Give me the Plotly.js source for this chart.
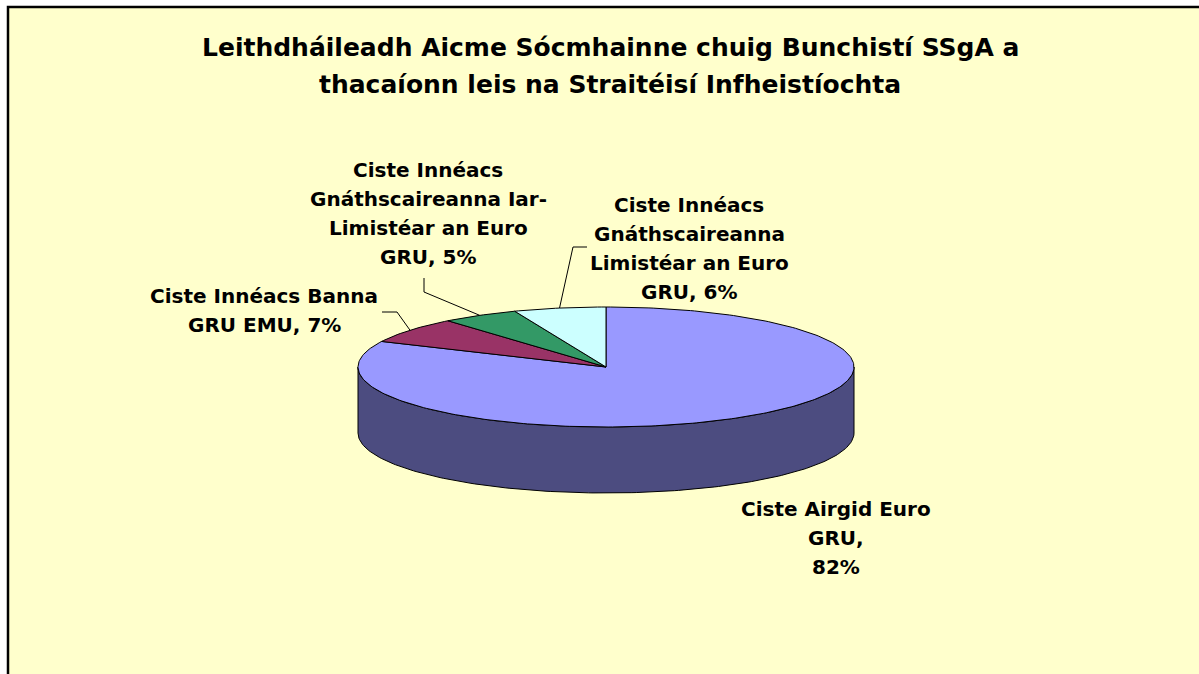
<!DOCTYPE html>
<html><head><meta charset="utf-8">
<script src="https://cdn.plot.ly/plotly-3.0.1.min.js"></script>
<style>html,body{margin:0;padding:0;background:#fff}#chart{width:1199px;height:674px}</style>
</head><body><div id="chart"></div>
<script>
// ---- data ----
const categories = [
  "Ciste Airgid Euro GRU",
  "Ciste Innéacs Banna GRU EMU",
  "Ciste Innéacs Gnáthscaireanna Iar-Limistéar an Euro GRU",
  "Ciste Innéacs Gnáthscaireanna Limistéar an Euro GRU"
];
const values = [82, 7, 5, 6];
const nameLines = [
  ["Ciste Airgid Euro", "GRU,"],
  ["Ciste Innéacs Banna", "GRU EMU,"],
  ["Ciste Innéacs", "Gnáthscaireanna Iar-", "Limistéar an Euro", "GRU,"],
  ["Ciste Innéacs", "Gnáthscaireanna", "Limistéar an Euro", "GRU,"]
];
const topColors  = ['#9999FF', '#993366', '#339966', '#CCFFFF'];
const sideColors = ['#4C4C80', '#4D1A33', '#1A4D33', '#668080'];
const titleLines = [
  'Leithdháileadh Aicme Sócmhainne chuig Bunchistí SSgA a',
  'thacaíonn leis na Straitéisí Infheistíochta'
];

// ---- layout geometry (pixel space) ----
const cx = 606, cy = 367, rx = 248, ry = 60, depth = 66;
const labelPos = [ {x: 836, y: 509}, {x: 264, y: 296}, {x: 428, y: 170}, {x: 689, y: 205} ];
const lineGap = 29;
const titlePos = {x: 610, y: 47, gap: 37};
const leaders = [ null, [[382,312],[397,312]], [[424,278],[424,292]], [[587,247],[573,247]] ];

function pt(tDeg, yoff) {
  const t = tDeg * Math.PI / 180;
  return [cx + rx * Math.sin(t), cy - ry * Math.cos(t) + yoff];
}
function arc(t0, t1, yoff) {
  const xs = [], ys = [];
  const n = Math.max(2, Math.ceil(Math.abs(t1 - t0)));
  for (let k = 0; k <= n; k++) {
    const p = pt(t0 + (t1 - t0) * k / n, yoff);
    xs.push(p[0]); ys.push(p[1]);
  }
  return [xs, ys];
}

const total = values.reduce((a, b) => a + b, 0);
const starts = [], ends = [];
let acc = 0;
values.forEach(v => { starts.push(acc / total * 360); acc += v; ends.push(acc / total * 360); });

const traces = [];
// sides (front visible part 90..270)
values.forEach((v, i) => {
  const s = Math.max(starts[i], 90), e = Math.min(ends[i], 270);
  if (s < e) {
    const a = arc(s, e, 0), b = arc(e, s, depth);
    traces.push({
      type: 'scatter', mode: 'lines', x: a[0].concat(b[0], [a[0][0]]), y: a[1].concat(b[1], [a[1][0]]),
      fill: 'toself', fillcolor: sideColors[i], line: {color: '#000', width: 1},
      hoverinfo: 'skip', showlegend: false
    });
  }
});
// tops
values.forEach((v, i) => {
  const a = arc(starts[i], ends[i], 0);
  traces.push({
    type: 'scatter', mode: 'lines', name: categories[i],
    x: [cx].concat(a[0], [cx]), y: [cy].concat(a[1], [cy]),
    fill: 'toself', fillcolor: topColors[i], line: {color: '#000', width: 1},
    hoverinfo: 'text', text: categories[i] + ': ' + v + '%', showlegend: false
  });
});
// leader lines
values.forEach((v, i) => {
  if (!leaders[i]) return;
  const end = pt((starts[i] + ends[i]) / 2, 0);
  traces.push({
    type: 'scatter', mode: 'lines',
    x: leaders[i].map(p => p[0]).concat([end[0]]),
    y: leaders[i].map(p => p[1]).concat([end[1]]),
    line: {color: '#000', width: 1}, hoverinfo: 'skip', showlegend: false
  });
});

// labels
const annotations = [];
values.forEach((v, i) => {
  const lines = nameLines[i].slice();
  if (i === 0) lines.push(v + '%'); else lines[lines.length - 1] += ' ' + v + '%';
  lines.forEach((ln, k) => {
    annotations.push({
      x: labelPos[i].x, y: labelPos[i].y + k * lineGap, xref: 'x', yref: 'y',
      text: ln, showarrow: false, xanchor: 'center', yanchor: 'middle',
      font: {family: 'DejaVu Sans', size: 20, color: '#000', weight: 'bold'}
    });
  });
});
// title (two lines)
titleLines.forEach((ln, k) => {
  annotations.push({
    x: titlePos.x, y: titlePos.y + k * titlePos.gap, xref: 'x', yref: 'y',
    text: ln, showarrow: false, xanchor: 'center', yanchor: 'middle',
    font: {family: 'DejaVu Sans', size: 25, color: '#000', weight: 'bold'}
  });
});

const layout = {
  width: 1199, height: 674,
  margin: {l: 0, r: 0, t: 0, b: 0},
  paper_bgcolor: '#ffffff', plot_bgcolor: '#ffffff',
  xaxis: {range: [0, 1199], visible: false, fixedrange: true},
  yaxis: {range: [674, 0], visible: false, fixedrange: true},
  shapes: [{
    type: 'rect', xref: 'x', yref: 'y', x0: 8, y0: 7, x1: 1400, y1: 900,
    fillcolor: '#FFFFCC', line: {color: '#000', width: 2.5}, layer: 'below'
  }],
  annotations: annotations,
  showlegend: false
};

Plotly.newPlot('chart', traces, layout, {displayModeBar: false});
</script>
</body></html>
